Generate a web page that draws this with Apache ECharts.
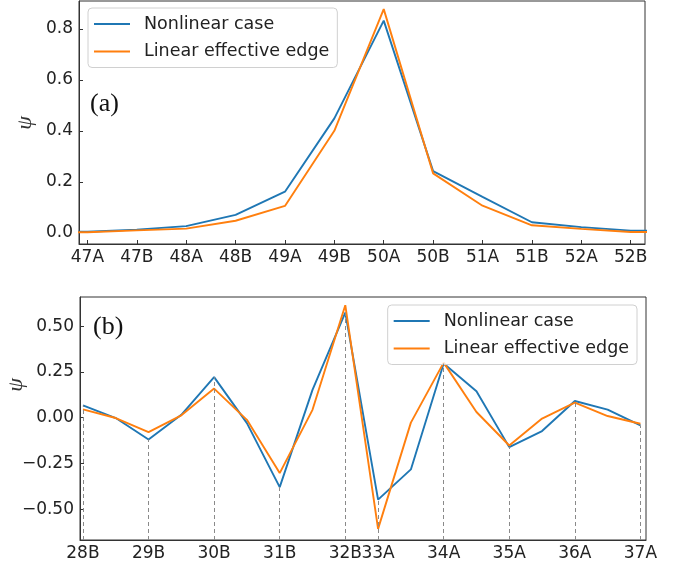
<!DOCTYPE html>
<html>
<head>
<meta charset="utf-8">
<style>html,body{margin:0;padding:0;background:#fff}#c{width:690px;height:572px}</style>
<script src="https://cdn.jsdelivr.net/npm/echarts@6/dist/echarts.min.js"></script>
</head>
<body>
<div id="c"></div>
<script>
// ---- Panel (a) ----
// sites, incl. one clipped neighbour on each side (x index -1 and 12)
const topSites = ['46B','47A','47B','48A','48B','49A','49B','50A','50B','51A','51B','52A','52B','53A'];
const topNonlinear = [0.002, 0.004, 0.012, 0.026, 0.070, 0.161, 0.449, 0.833, 0.242, 0.141, 0.041, 0.022, 0.008, 0.007];
const topLinear    = [0.001, 0.002, 0.009, 0.016, 0.047, 0.105, 0.400, 0.878, 0.233, 0.106, 0.029, 0.015, 0.003, 0.003];
const topTickIdx = [0,1,2,3,4,5,6,7,8,9,10,11];
const topYTicks = [0, 0.2, 0.4, 0.6, 0.8];

// ---- Panel (b) ----
const botSites = ['28B','29A','29B','30A','30B','31A','31B','32A','32B','33A','33B','34A','34B','35A','35B','36A','36B','37A'];
const botNonlinear = [0.067, -0.002, -0.119, 0.016, 0.222, -0.030, -0.380, 0.152, 0.575, -0.448, -0.283, 0.296, 0.144, -0.161, -0.073, 0.091, 0.044, -0.042];
const botLinear    = [0.045, -0.002, -0.079, 0.013, 0.159, -0.012, -0.303, 0.043, 0.615, -0.608, -0.027, 0.301, 0.031, -0.152, -0.005, 0.082, 0.009, -0.033];
const botTickIdx = [0,2,4,6,8,9,11,13,15,17];
const botYTicks = [-0.5, -0.25, 0, 0.25, 0.5];

const BLUE = '#1f77b4', ORANGE = '#ff7f0e';
const FONT = 'DejaVu Sans';
const names = ['Nonlinear case', 'Linear effective edge'];

const topPairs = a => a.map((v, i) => [i - 1, v]);
const botPairs = a => a.map((v, i) => [i, v]);

const topYMin = -0.0444, topYMax = 0.910;
const botYMin = -0.669, botYMax = 0.660;

function xAxisBase(gridIndex, min, max, ticks, fmt) {
  return {
    type: 'value', gridIndex, min, max,
    axisLine: { show: true, onZero: false, lineStyle: { color: '#333', width: 1 } },
    axisTick: { show: true, inside: true, length: 4, customValues: ticks, lineStyle: { color: '#333' } },
    axisLabel: { customValues: ticks, formatter: fmt, margin: 5, color: '#222', fontFamily: FONT, fontSize: 17 },
    splitLine: { show: false }
  };
}
function yAxisBase(gridIndex, min, max, ticks, fmt) {
  return {
    type: 'value', gridIndex, min, max,
    axisLine: { show: true, onZero: false, lineStyle: { color: '#333', width: 1 } },
    axisTick: { show: true, inside: true, length: 4, customValues: ticks, lineStyle: { color: '#333' } },
    axisLabel: { customValues: ticks, formatter: fmt, margin: 6, color: '#222', fontFamily: FONT, fontSize: 17 },
    splitLine: { show: false }
  };
}
function legendBase(left, top, right) {
  const l = {
    orient: 'vertical', data: names, top,
    icon: 'rect', itemWidth: 36, itemHeight: 2, itemGap: 9.5,
    padding: [7, 8, 7, 6],
    backgroundColor: 'rgba(255,255,255,0.8)', borderColor: '#d0d0d0', borderWidth: 1, borderRadius: 4,
    textStyle: { fontFamily: FONT, fontSize: 17.5, color: '#222', lineHeight: 17.5, padding: [0, 0, 0, 9] },
    selectedMode: false
  };
  if (left != null) l.left = left; else l.right = right;
  return l;
}

const lineSeries = (name, xi, yi, data, color) => ({
  name, type: 'line', xAxisIndex: xi, yAxisIndex: yi, data,
  symbol: 'none', clip: true, color,
  lineStyle: { color, width: 1.9 }, z: 3, animation: false
});

const stems = botTickIdx.map(i => [{ coord: [i, botYMin] }, { coord: [i, botNonlinear[i]] }]);

const option = {
  animation: false,
  backgroundColor: '#fff',
  grid: [
    { left: 79, right: 45, top: 1, height: 243, show: true, borderColor: '#333', borderWidth: 1, backgroundColor: 'transparent' },
    { left: 80, right: 44, top: 297, height: 243, show: true, borderColor: '#333', borderWidth: 1, backgroundColor: 'transparent' }
  ],
  xAxis: [
    xAxisBase(0, -0.17, 11.29, topTickIdx, v => topSites[Math.round(v) + 1]),
    xAxisBase(1, -0.09, 17.17, botTickIdx, v => botSites[Math.round(v)])
  ],
  yAxis: [
    yAxisBase(0, topYMin, topYMax, topYTicks, v => v.toFixed(1)),
    yAxisBase(1, botYMin, botYMax, botYTicks, v => (v < 0 ? '\u2212' : '') + Math.abs(v).toFixed(2))
  ],
  legend: [
    legendBase(88, 8, null),
    legendBase(null, 305, 53)
  ],
  series: [
    lineSeries(names[0], 0, 0, topPairs(topNonlinear), BLUE),
    lineSeries(names[1], 0, 0, topPairs(topLinear), ORANGE),
    {
      type: 'line', xAxisIndex: 1, yAxisIndex: 1, data: [], symbol: 'none', z: 1, silent: true,
      markLine: {
        silent: true, symbol: 'none', animation: false,
        label: { show: false },
        lineStyle: { color: '#8a8a8a', width: 1, type: [4, 3] },
        data: stems
      }
    },
    lineSeries(names[0], 1, 1, botPairs(botNonlinear), BLUE),
    lineSeries(names[1], 1, 1, botPairs(botLinear), ORANGE)
  ],
  graphic: [
    { type: 'text', left: 90, top: 91, style: { text: '(a)', font: '26px "Liberation Serif"', fill: '#111' } },
    { type: 'text', left: 93, top: 314, style: { text: '(b)', font: '26px "Liberation Serif"', fill: '#111' } },
    { type: 'text', x: 25, y: 123, rotation: Math.PI / 2, style: { text: '\u03c8', font: 'italic 22px "Liberation Serif"', fill: '#333', align: 'center', verticalAlign: 'middle' } },
    { type: 'text', x: 16, y: 385, rotation: Math.PI / 2, style: { text: '\u03c8', font: 'italic 22px "Liberation Serif"', fill: '#333', align: 'center', verticalAlign: 'middle' } }
  ]
};

const chart = echarts.init(document.getElementById('c'), null, { renderer: 'canvas' });
chart.setOption(option);
</script>
</body>
</html>
